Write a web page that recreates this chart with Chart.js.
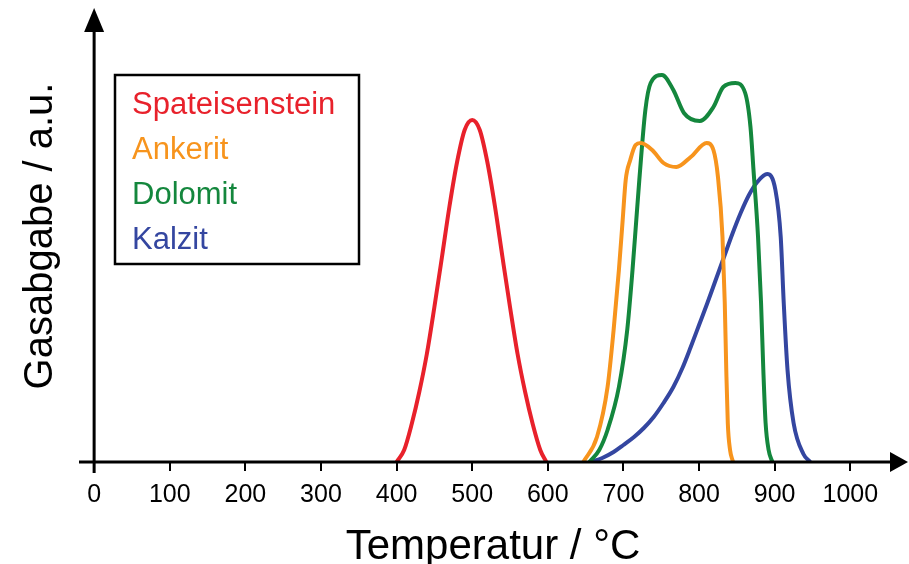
<!DOCTYPE html>
<html>
<head>
<meta charset="utf-8">
<script src="https://cdn.jsdelivr.net/npm/chart.js@4"></script>
<style>
  html, body { margin: 0; padding: 0; background: #fff; }
  #wrap { width: 909px; height: 564px; }
</style>
</head>
<body>
<div id="wrap"><canvas id="gasChart"></canvas></div>
<script>
// Temperatur (°C) und Gasabgabe (a.u.) je Mineral
const spatT = [400, 410, 420, 430, 440, 450, 460, 470, 480, 490, 500, 510, 520, 530, 540, 550, 560, 570, 580, 590, 598];
const spatY = [0, 12, 38, 70, 108, 155, 205, 256, 300, 332, 342, 332, 300, 256, 205, 155, 108, 70, 38, 12, 0];

const ankT = [647, 665, 679, 687, 694, 699, 703, 709, 716, 723, 738, 753, 770, 789, 810, 819, 825, 831, 834, 836, 838, 841, 845];
const ankY = [0, 25, 75, 132, 192, 242, 282, 302, 317, 319, 312, 299, 295, 305, 319, 312, 285, 225, 159, 92, 39, 12, 0];

const dolT = [655, 668, 679, 694, 705, 712, 717, 721, 729, 736, 751, 766, 780, 801, 819, 832, 848, 861, 868, 872, 878, 882, 885, 888, 892, 897];
const dolY = [0, 12, 32, 75, 132, 192, 242, 282, 352, 379, 387, 372, 349, 341, 355, 375, 379, 369, 335, 292, 225, 159, 92, 39, 12, 0];

const kalT = [657, 672, 687, 700, 714, 727, 740, 753, 766, 778, 789, 800, 811, 822, 833, 844, 855, 866, 877, 890, 901, 908, 912, 917, 925, 938, 947];
const kalY = [0, 4, 10, 17, 25, 34, 45, 59, 75, 94, 115, 137, 159, 182, 205, 228, 249, 267, 280, 288, 272, 225, 159, 92, 39, 8, 0];

const names = ["Spateisenstein", "Ankerit", "Dolomit", "Kalzit"];
const colors = ["#e8212b", "#f7941d", "#14873d", "#3446a0"];
const tickValues = [0, 100, 200, 300, 400, 500, 600, 700, 800, 900, 1000];

const FONT = "'Liberation Sans', Arial, Helvetica, sans-serif";

function pts(xs, ys) {
  return xs.map((x, i) => ({ x: x, y: ys[i] }));
}

const series = [pts(spatT, spatY), pts(ankT, ankY), pts(dolT, dolY), pts(kalT, kalY)];

// Achsen mit Pfeilen
const arrowAxes = {
  id: "arrowAxes",
  afterDatasetsDraw(chart) {
    const { ctx, chartArea, scales } = chart;
    const y0 = scales.y.getPixelForValue(0);
    const x0 = scales.x.getPixelForValue(0);
    ctx.save();
    ctx.strokeStyle = "#000";
    ctx.fillStyle = "#000";
    ctx.lineWidth = 3;
    ctx.beginPath();
    ctx.moveTo(chartArea.left, y0);
    ctx.lineTo(chartArea.right - 12, y0);
    ctx.moveTo(x0, y0 + 11);
    ctx.lineTo(x0, chartArea.top + 14);
    ctx.stroke();
    // Pfeil x
    ctx.beginPath();
    ctx.moveTo(chartArea.right + 1, y0);
    ctx.lineTo(chartArea.right - 17, y0 - 10);
    ctx.lineTo(chartArea.right - 17, y0 + 10);
    ctx.closePath();
    ctx.fill();
    // Pfeil y
    ctx.beginPath();
    ctx.moveTo(x0, chartArea.top - 2);
    ctx.lineTo(x0 - 10, chartArea.top + 22);
    ctx.lineTo(x0 + 10, chartArea.top + 22);
    ctx.closePath();
    ctx.fill();
    ctx.restore();
  }
};

// Legende im Kasten, Text in Linienfarbe
const boxLegend = {
  id: "boxLegend",
  afterDraw(chart) {
    const ctx = chart.ctx;
    ctx.save();
    ctx.strokeStyle = "#000";
    ctx.lineWidth = 2.5;
    ctx.strokeRect(115, 75, 244, 189);
    ctx.font = "31px " + FONT;
    ctx.textBaseline = "alphabetic";
    ctx.textAlign = "left";
    chart.data.datasets.forEach((ds, i) => {
      ctx.fillStyle = ds.borderColor;
      ctx.fillText(ds.label, 132, 114 + i * 45);
    });
    ctx.restore();
  }
};

new Chart(document.getElementById("gasChart"), {
  type: "line",
  data: {
    datasets: series.map((d, i) => ({
      label: names[i],
      data: d,
      borderColor: colors[i],
      borderWidth: 4,
      pointRadius: 0,
      fill: false,
      cubicInterpolationMode: "monotone"
    }))
  },
  options: {
    responsive: true,
    maintainAspectRatio: false,
    animation: false,
    layout: { padding: { top: 10, right: 2, left: 0, bottom: 0 } },
    plugins: {
      legend: { display: false },
      tooltip: { enabled: false }
    },
    scales: {
      x: {
        type: "linear",
        min: -20,
        max: 1075,
        afterBuildTicks: (axis) => { axis.ticks = tickValues.map(v => ({ value: v })); },
        border: { display: false },
        grid: {
          display: true,
          drawOnChartArea: false,
          drawTicks: true,
          tickLength: 9,
          color: "#000",
          lineWidth: 2
        },
        ticks: {
          color: "#000",
          padding: 9,
          maxRotation: 0,
          autoSkip: false,
          font: { family: FONT, size: 25 },
          callback: (v) => String(v)
        },
        title: {
          display: true,
          text: "Temperatur / °C",
          color: "#000",
          font: { family: FONT, size: 42, lineHeight: 1 },
          padding: { top: 7, bottom: -4 }
        }
      },
      y: {
        min: 0,
        max: 452,
        border: { display: false },
        grid: { display: false },
        ticks: { display: false },
        title: {
          display: true,
          text: "Gasabgabe / a.u.",
          color: "#000",
          font: { family: FONT, size: 40, lineHeight: 1 },
          padding: { top: 21, bottom: 10 }
        }
      }
    }
  },
  plugins: [arrowAxes, boxLegend]
});
</script>
</body>
</html>
